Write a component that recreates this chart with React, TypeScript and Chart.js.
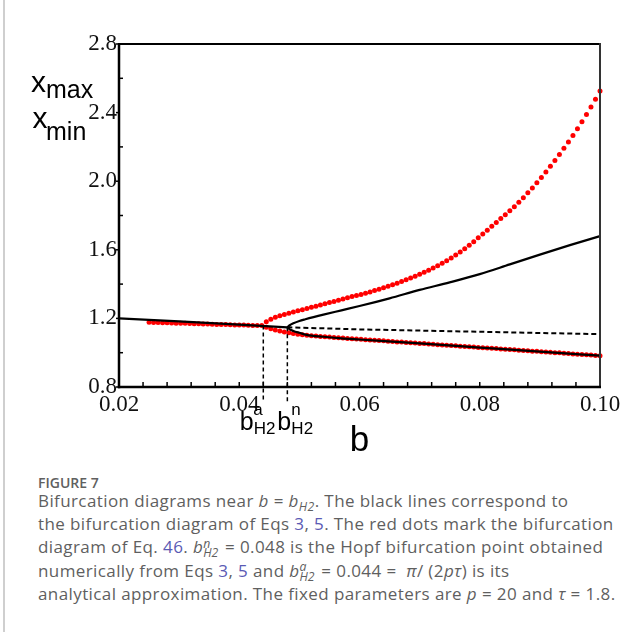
import React, { useEffect, useRef } from "react";
import { Chart, registerables } from "chart.js";

Chart.register(...registerables);

// ---------- axis ticks ----------
const X_TICKS = [0.02, 0.04, 0.06, 0.08, 0.1];
const X_TICK_MARKS = [
  0.024, 0.028, 0.032, 0.036, 0.04, 0.044, 0.048, 0.052, 0.056, 0.06,
  0.064, 0.068, 0.072, 0.076, 0.08, 0.084, 0.088, 0.092, 0.096,
];
const Y_TICKS = [0.8, 1.2, 1.6, 2.0, 2.4, 2.8];
const Y_MINOR = [1.0, 1.4, 1.8, 2.2, 2.6];

// ---------- black lines: Eqs 3, 5 ----------
const B_STEADY = [0.02, 0.03, 0.04, 0.048];
const X_STEADY = [1.2, 1.183, 1.164, 1.148];
const B_UNSTABLE = [0.048, 0.06, 0.08, 0.1];
const X_UNSTABLE = [1.148, 1.136, 1.122, 1.108];
const B_CYCLE_MAX = [0.048, 0.0484, 0.049, 0.05, 0.051, 0.054, 0.057, 0.06, 0.065, 0.07, 0.075, 0.08, 0.085, 0.09, 0.095, 0.1];
const X_CYCLE_MAX = [1.148, 1.16, 1.171, 1.185, 1.195, 1.222, 1.247, 1.272, 1.317, 1.366, 1.41, 1.458, 1.515, 1.572, 1.627, 1.68];
const B_CYCLE_MIN = [0.048, 0.0484, 0.049, 0.05, 0.0512, 0.054, 0.057, 0.06, 0.07, 0.08, 0.09, 0.1];
const X_CYCLE_MIN = [1.148, 1.136, 1.127, 1.116, 1.104, 1.093, 1.084, 1.077, 1.054, 1.03, 1.006, 0.983];

// ---------- Hopf points (analytical a, numerical n) ----------
const B_HOPF = [0.044, 0.048];
const X_HOPF = [1.158, 1.148];
const HOPF_MARK_BOTTOM = 0.712;

// ---------- red dots: Eq. 46 ----------
const B_RED = [
  0.025, 0.02575, 0.0265, 0.02725, 0.028, 0.02875, 0.0295, 0.03025, 0.031, 0.03175,
  0.0325, 0.03325, 0.034, 0.03475, 0.0355, 0.03625, 0.037, 0.03775, 0.0385, 0.03925,
  0.04, 0.04075, 0.0415, 0.04225, 0.043, 0.04375, 0.0445, 0.04525, 0.046, 0.04675,
  0.0475, 0.04825, 0.049, 0.04975, 0.0505, 0.05125, 0.052, 0.05275, 0.0535, 0.05425,
  0.055, 0.05575, 0.0565, 0.05725, 0.058, 0.05875, 0.0595, 0.06025, 0.061, 0.06175,
  0.0625, 0.06325, 0.064, 0.06475, 0.0655, 0.06625, 0.067, 0.06775, 0.0685, 0.06925,
  0.07, 0.07075, 0.0715, 0.07225, 0.073, 0.07375, 0.0745, 0.07525, 0.076, 0.07675,
  0.0775, 0.07825, 0.079, 0.07975, 0.0805, 0.08125, 0.082, 0.08275, 0.0835, 0.08425,
  0.085, 0.08575, 0.0865, 0.08725, 0.088, 0.08875, 0.0895, 0.09025, 0.091, 0.09175,
  0.0925, 0.09325, 0.094, 0.09475, 0.0955, 0.09625, 0.097, 0.09775, 0.0985, 0.09925,
  0.1,
];
const RED_STEADY = [
  1.177, 1.176, 1.176, 1.175, 1.174, 1.173, 1.172, 1.172, 1.171, 1.17,
  1.169, 1.169, 1.168, 1.167, 1.166, 1.165, 1.165, 1.164, 1.163, 1.162,
  1.162, 1.161, 1.16, 1.159, 1.158, 1.158,
];
const RED_MAX = [
  1.18, 1.195, 1.206, 1.215, 1.223, 1.23, 1.237, 1.244, 1.251, 1.258,
  1.265, 1.271, 1.278, 1.285, 1.292, 1.299, 1.306, 1.313, 1.32, 1.327,
  1.333, 1.34, 1.347, 1.354, 1.362, 1.37, 1.378, 1.387, 1.396, 1.405,
  1.415, 1.425, 1.435, 1.446, 1.457, 1.469, 1.481, 1.494, 1.507, 1.521,
  1.536, 1.552, 1.569, 1.587, 1.606, 1.626, 1.647, 1.67, 1.692, 1.714,
  1.737, 1.759, 1.782, 1.805, 1.828, 1.851, 1.877, 1.904, 1.932, 1.961,
  1.991, 2.022, 2.054, 2.087, 2.121, 2.156, 2.192, 2.229, 2.267, 2.306,
  2.346, 2.389, 2.433, 2.478, 2.526,
];
const RED_MIN = [
  1.148, 1.14, 1.133, 1.127, 1.121, 1.116, 1.112, 1.108, 1.105, 1.102,
  1.099, 1.097, 1.095, 1.093, 1.091, 1.089, 1.087, 1.085, 1.083, 1.081,
  1.08, 1.078, 1.076, 1.074, 1.073, 1.071, 1.069, 1.067, 1.065, 1.063,
  1.062, 1.06, 1.058, 1.056, 1.054, 1.053, 1.051, 1.049, 1.047, 1.045,
  1.044, 1.042, 1.04, 1.038, 1.036, 1.035, 1.033, 1.031, 1.029, 1.027,
  1.026, 1.024, 1.022, 1.02, 1.018, 1.017, 1.015, 1.013, 1.011, 1.009,
  1.008, 1.006, 1.004, 1.002, 1.0, 0.999, 0.997, 0.995, 0.993, 0.991,
  0.99, 0.988, 0.986, 0.984, 0.982,
];

const SANS = '"Liberation Sans", Arial, sans-serif';
const SERIF = '"Liberation Serif", "Times New Roman", serif';
const CAPTION_FONT = "'Open Sans', 'Noto Sans', sans-serif";

const pts = (bs: number[], xs: number[]) => bs.map((b, i) => ({ x: b, y: xs[i] }));

const framePlugin = {
  id: "frame",
  afterDraw(chart: any) {
    const ctx = chart.ctx as CanvasRenderingContext2D;
    const { left, right, top, bottom } = chart.chartArea;
    const xs = chart.scales.x;
    const ys = chart.scales.y;
    const line = (x1: number, y1: number, x2: number, y2: number) => {
      ctx.beginPath();
      ctx.moveTo(x1, y1);
      ctx.lineTo(x2, y2);
      ctx.stroke();
    };
    ctx.save();
    ctx.lineCap = "butt";
    // frame
    ctx.strokeStyle = "#000";
    ctx.lineWidth = 2;
    line(left, top, right + 1, top);
    ctx.strokeStyle = "#333";
    line(right, top - 1, right, bottom);
    ctx.strokeStyle = "#000";
    ctx.lineWidth = 2.5;
    line(left, top - 1, left, bottom + 1.25);
    line(left - 1.25, bottom, right + 1, bottom);
    // ticks
    ctx.lineWidth = 1.5;
    X_TICK_MARKS.forEach((v) => {
      const x = xs.getPixelForValue(v);
      line(x, bottom, x, bottom - 5);
    });
    Y_MINOR.forEach((v) => {
      const y = ys.getPixelForValue(v);
      line(left, y, left + 4, y);
    });
    Y_TICKS.forEach((v) => {
      const y = ys.getPixelForValue(v);
      line(left - 3, y, left, y);
    });

    // texts
    ctx.fillStyle = "#000";
    ctx.textBaseline = "alphabetic";
    ctx.textAlign = "left";
    const txt = (s: string, size: number, x: number, y: number) => {
      ctx.font = `${size}px ${SANS}`;
      ctx.fillText(s, x, y);
    };
    // y axis label
    txt("x", 30, 31, 92);
    txt("max", 25, 46, 98);
    txt("x", 30, 32.5, 128);
    txt("min", 25, 46, 140);
    // Hopf labels
    const pa = xs.getPixelForValue(B_HOPF[0]);
    const pn = xs.getPixelForValue(B_HOPF[1]);
    txt("b", 25, pa - 23.5, 430);
    txt("a", 17, pa - 10, 415);
    txt("H2", 17, pa - 9.6, 433.5);
    txt("b", 25, pn - 10, 430);
    txt("n", 17, pn + 4, 415);
    txt("H2", 17, pn + 4, 433.5);
    // x axis title
    ctx.textAlign = "center";
    txt("b", 35, (left + right) / 2, 451);
    ctx.restore();
  },
};

function BifurcationChart() {
  const ref = useRef<HTMLCanvasElement | null>(null);
  useEffect(() => {
    if (!ref.current) return;
    const black = {
      showLine: true,
      pointRadius: 0,
      borderColor: "#000",
      backgroundColor: "#000",
      borderWidth: 2.2,
      clip: false,
      order: 0,
    };
    const red = {
      pointRadius: 2.5,
      pointBorderWidth: 0,
      pointBackgroundColor: "#ff0000",
      showLine: false,
      clip: false,
      order: 1,
    };
    const datasets: any[] = [
      { ...black, data: pts(B_STEADY, X_STEADY) },
      { ...black, data: pts(B_UNSTABLE, X_UNSTABLE), borderDash: [5, 3], borderWidth: 2 },
      { ...black, data: pts(B_CYCLE_MAX, X_CYCLE_MAX), cubicInterpolationMode: "monotone" },
      { ...black, data: pts(B_CYCLE_MIN, X_CYCLE_MIN), cubicInterpolationMode: "monotone" },
      {
        ...black,
        data: [
          { x: B_HOPF[0], y: X_HOPF[0] },
          { x: B_HOPF[0], y: HOPF_MARK_BOTTOM },
        ],
        borderDash: [4, 3],
        borderWidth: 1.5,
      },
      {
        ...black,
        data: [
          { x: B_HOPF[1], y: X_HOPF[1] },
          { x: B_HOPF[1], y: HOPF_MARK_BOTTOM },
        ],
        borderDash: [4, 3],
        borderWidth: 1.5,
      },
      { ...red, data: pts(B_RED.slice(0, RED_STEADY.length), RED_STEADY) },
      { ...red, data: pts(B_RED.slice(RED_STEADY.length), RED_MAX) },
      { ...red, data: pts(B_RED.slice(RED_STEADY.length), RED_MIN) },
    ];
    const chart = new Chart(ref.current, {
      type: "scatter",
      data: { datasets },
      options: {
        animation: false,
        responsive: false,
        events: [],
        layout: { padding: { top: 44, right: 41, left: 0, bottom: 0 } },
        plugins: { legend: { display: false }, tooltip: { enabled: false } },
        scales: {
          x: {
            type: "linear",
            min: 0.02,
            max: 0.1,
            grid: { display: false, drawTicks: false },
            border: { display: false },
            afterBuildTicks: (s: any) => {
              s.ticks = X_TICKS.map((v) => ({ value: v }));
            },
            afterFit: (s: any) => {
              s.height = 73;
            },
            ticks: {
              callback: (v: any) => Number(v).toFixed(2),
              font: { family: SERIF, size: 23 },
              color: "#111",
              padding: 4,
              maxRotation: 0,
              autoSkip: false,
            },
          },
          y: {
            type: "linear",
            min: 0.8,
            max: 2.8,
            grid: { display: false, drawTicks: false },
            border: { display: false },
            afterBuildTicks: (s: any) => {
              s.ticks = Y_TICKS.map((v) => ({ value: v }));
            },
            afterFit: (s: any) => {
              s.width = 119;
            },
            ticks: {
              callback: (v: any) => Number(v).toFixed(1),
              font: { family: SERIF, size: 23 },
              color: "#111",
              padding: 2,
              autoSkip: false,
            },
          },
        },
      } as any,
      plugins: [framePlugin as any],
    });
    return () => chart.destroy();
  }, []);
  return <canvas ref={ref} width={641} height={460} style={{ display: "block", position: "absolute", left: 0, top: 0 }} />;
}

const LINK = "#5a5ab4";
const Link = ({ children }: { children: React.ReactNode }) => <span style={{ color: LINK }}>{children}</span>;
const SupSub = ({ sup, sub }: { sup: string; sub: string }) => (
  <span style={{ display: "inline-block", position: "relative", width: "1.0em", height: "1em", verticalAlign: "baseline", letterSpacing: 0 }}>
    <i style={{ position: "absolute", left: 0, top: "-0.38em", fontSize: "0.72em" }}>{sup}</i>
    <i style={{ position: "absolute", left: 0, top: "0.42em", fontSize: "0.72em" }}>{sub}</i>
  </span>
);

export default function App() {
  return (
    <div style={{ position: "absolute", left: 0, top: 0, width: 641, height: 632, background: "#fff", overflow: "hidden" }}>
      <div style={{ position: "absolute", left: 3, top: 0, width: 1.5, height: 632, background: "#cfcfcf" }} />
      <BifurcationChart />
      <div
        style={{
          position: "absolute",
          left: 38,
          top: 474,
          fontFamily: CAPTION_FONT,
          fontSize: 14,
          lineHeight: "18px",
          fontWeight: 600,
          color: "#606060",
          whiteSpace: "nowrap",
        }}
      >
        FIGURE 7
      </div>
      <div
        style={{
          position: "absolute",
          left: 38,
          top: 488.5,
          fontFamily: CAPTION_FONT,
          fontSize: 17,
          letterSpacing: "0.4px",
          lineHeight: "23.4px",
          color: "#5f5f5f",
          whiteSpace: "nowrap",
        }}
      >
        <div>
          Bifurcation diagrams near <i>b</i> = <i>b</i>
          <sub style={{ fontSize: "0.72em", lineHeight: 0 }}><i>H2</i></sub>. The black lines correspond to
        </div>
        <div>
          the bifurcation diagram of Eqs <Link>3</Link>, <Link>5</Link>. The red dots mark the bifurcation
        </div>
        <div>
          diagram of Eq. <Link>46</Link>. <i>b</i>
          <SupSub sup="n" sub="H2" /> = 0.048 is the Hopf bifurcation point obtained
        </div>
        <div>
          numerically from Eqs <Link>3</Link>, <Link>5</Link> and <i>b</i>
          <SupSub sup="a" sub="H2" /> = 0.044 = &nbsp;<i>π</i>/ (2<i>pτ</i>) is its
        </div>
        <div>
          analytical approximation. The fixed parameters are <i>p</i> = 20 and <i>τ</i> = 1.8.
        </div>
      </div>
    </div>
  );
}
